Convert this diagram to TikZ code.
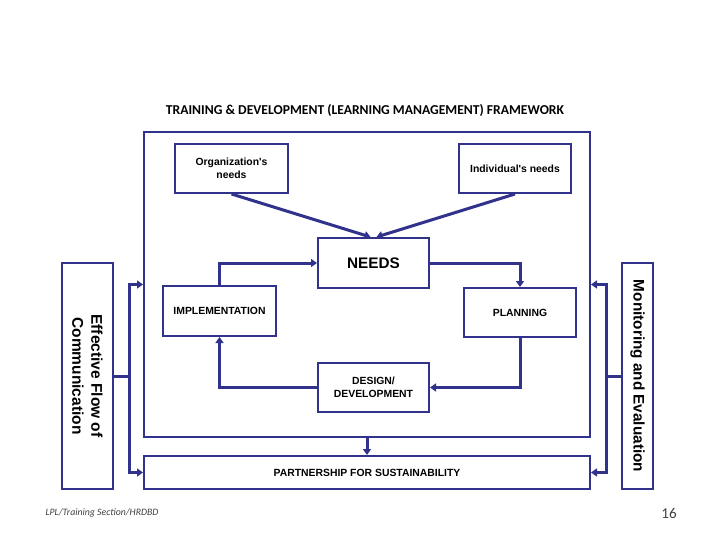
\documentclass[tikz,border=0pt]{standalone}
\usepackage{fontspec}
\setmainfont{Carlito}
\newfontfamily\boxfont{Liberation Sans}
\usepackage{tikz}
\usetikzlibrary{arrows.meta}
\usepackage{xcolor}
\definecolor{navy}{RGB}{48,50,140}

\tikzset{
	box/.style={draw=navy,line width=2pt,fill=white,align=center,inner sep=2pt,font=\boxfont\bfseries\fontsize{10.4}{13}\selectfont},
	flow/.style={draw=navy,line width=3pt,-{Triangle[length=6pt,width=8pt]}},
	joint/.style={draw=navy,line width=3pt}
}

\begin{document}
\begin{tikzpicture}[x=1pt,y=-1pt]
			\useasboundingbox (0,0) rectangle (720,540);
			\node[font=\bfseries\fontsize{13.6}{16}\selectfont] (title) at (365,110) {TRAINING \& DEVELOPMENT (LEARNING MANAGEMENT) FRAMEWORK};
			% outer frame and bottom bar
			\node[box,minimum width=446pt,minimum height=305pt] (frame) at (367,284.5) {};
			\node[box,minimum width=446pt,minimum height=33pt] (part) at (367,472.5) {PARTNERSHIP FOR SUSTAINABILITY};
			% side bars
			\node[box,minimum width=51pt,minimum height=226pt] (comm) at (87.5,376) {};
			\node[rotate=-90,align=center,font=\boxfont\bfseries\fontsize{15.5}{19}\selectfont] at (comm) {Effective Flow of\\Communication};
			\node[box,minimum width=31pt,minimum height=226pt] (monit) at (637.5,376) {};
			\node[rotate=-90,font=\boxfont\bfseries\fontsize{15.3}{17}\selectfont] at (monit) {Monitoring and Evaluation};
			% cycle
			\node[box,minimum width=113pt,minimum height=49pt] (org) at (231.5,168.5) {Organization's\\needs};
			\node[box,minimum width=112pt,minimum height=49pt] (indiv) at (515,168.5) {Individual's needs};
			\node[box,minimum width=111pt,minimum height=50pt,font=\boxfont\bfseries\fontsize{15.3}{17}\selectfont] (needs) at (373.5,263) {NEEDS};
			\node[box,minimum width=112pt,minimum height=49pt] (plan) at (520,312.5) {PLANNING};
			\node[box,minimum width=111pt,minimum height=49pt] (design) at (373.5,387.5) {DESIGN/\\DEVELOPMENT};
			\node[box,minimum width=113pt,minimum height=50pt] (impl) at (219.5,311) {IMPLEMENTATION};
			\draw[flow] (org.south) -- ([xshift=-3pt]needs.north);
			\draw[flow] (indiv.south) -- ([xshift=3pt]needs.north);
			\draw[flow] (needs.east) -| (plan.north);
			\draw[flow] (plan.south) |- (design.east);
			\draw[flow] (design.west) -| (impl.south);
			\draw[flow] (impl.north) |- (needs.west);
			\draw[flow] (frame.south) -- (part.north);
			% side links
			\draw[joint] (comm.east) -- ++(15,0) coordinate (commj);
			\draw[joint] (monit.west) -- ++(-15,0) coordinate (monitj);
			\draw[flow] (commj) |- (frame.west);
			\draw[flow] (commj) |- (part.west);
			\draw[flow] (monitj) |- (frame.east);
			\draw[flow] (monitj) |- (part.east);
			% footer
			\node[anchor=west,font=\itshape\fontsize{9.8}{11}\selectfont,text=black!75] (foot) at (42,513) {LPL/Training Section/HRDBD};
			\node[font=\fontsize{15}{17}\selectfont,text=black!75] (page) at (669,513) {16};
		\end{tikzpicture}
\end{document}
